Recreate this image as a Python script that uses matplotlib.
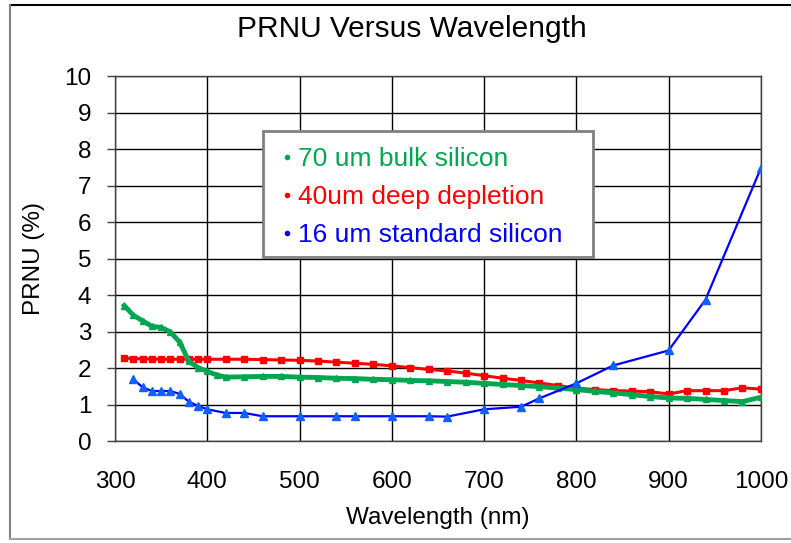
import matplotlib
matplotlib.use("Agg")
import matplotlib.pyplot as plt
from matplotlib.lines import Line2D
from matplotlib.patches import Rectangle

plt.rcParams['font.family'] = ['Liberation Sans', 'DejaVu Sans']

# 70 um bulk silicon
wl_bulk = [310, 320, 330, 340, 350, 360, 370, 380, 390, 400, 410, 420,
           440, 460, 480, 500, 520, 540, 560, 580, 600, 620, 640, 660,
           680, 700, 720, 740, 760, 780, 800, 820, 840, 860, 880, 900,
           920, 940, 960, 980, 1000]
prnu_bulk = [3.72, 3.45, 3.30, 3.15, 3.12, 3.00, 2.72, 2.20, 2.02, 1.92, 1.82, 1.76,
             1.77, 1.78, 1.78, 1.76, 1.75, 1.73, 1.72, 1.70, 1.69, 1.67, 1.66, 1.64,
             1.62, 1.59, 1.56, 1.53, 1.50, 1.46, 1.42, 1.37, 1.33, 1.28, 1.23, 1.19,
             1.18, 1.15, 1.12, 1.09, 1.21]

# 40um deep depletion
wl_deep = [310, 320, 330, 340, 350, 360, 370, 380, 390, 400, 420, 440,
           460, 480, 500, 520, 540, 560, 580, 600, 620, 640, 660, 680,
           700, 720, 740, 760, 780, 800, 820, 840, 860, 880, 900, 920,
           940, 960, 980, 1000]
prnu_deep = [2.28, 2.27, 2.26, 2.26, 2.25, 2.25, 2.25, 2.25, 2.25, 2.25, 2.25, 2.25,
             2.24, 2.23, 2.22, 2.20, 2.17, 2.14, 2.11, 2.07, 2.02, 1.97, 1.93, 1.87,
             1.80, 1.73, 1.67, 1.60, 1.53, 1.46, 1.42, 1.39, 1.38, 1.36, 1.30, 1.39,
             1.39, 1.39, 1.47, 1.43]

# 16 um standard silicon
wl_std = [320, 330, 340, 350, 360, 370, 380, 390, 400, 420, 440, 460,
          500, 540, 560, 600, 640, 660, 700, 740, 760, 800, 840, 900,
          940, 1000]
prnu_std = [1.70, 1.48, 1.38, 1.38, 1.38, 1.30, 1.09, 0.97, 0.88, 0.78, 0.78, 0.69,
            0.69, 0.69, 0.69, 0.69, 0.69, 0.68, 0.88, 0.95, 1.18, 1.59, 2.08, 2.49,
            3.88, 7.48]

labels = ['70 um bulk silicon', '40um deep depletion', '16 um standard silicon']
colors = ['#00A651', '#FF0000', '#0000FF']

fig = plt.figure(figsize=(7.91, 5.43), dpi=100)
ax = fig.add_axes([0.1454, 0.187, 0.8165, 0.673])

ax.plot(wl_bulk, prnu_bulk, color=colors[0], lw=3.5, marker='^', ms=5, zorder=4)
ax.plot(wl_deep, prnu_deep, color=colors[1], lw=2.2, marker='s', ms=4.5, zorder=3)
ax.plot(wl_std, prnu_std, color=colors[2], lw=1.6, marker='^', ms=6,
        mfc='#1060FF', mec='#1060FF', zorder=5)

ax.set_xlim(300, 1000)
ax.set_ylim(0, 10)
ax.set_xticks(range(300, 1001, 100))
ax.set_yticks(range(0, 11))
ax.grid(True, color='black', lw=1)
ax.set_axisbelow(True)
ax.tick_params(axis='y', length=6, width=1, pad=11, labelsize=17.5, color='#404040')
ax.tick_params(axis='x', length=0, pad=21, labelsize=17.5)
for s in ax.spines.values():
    s.set_color('#404040')
    s.set_linewidth(1)

# title is centred on the whole chart picture, not on the plot area
fig.text(412/791, 1 - 29/543, 'PRNU Versus Wavelength', fontsize=21.5,
         ha='center', va='center')
ax.set_xlabel('Wavelength (nm)', fontsize=17.5, labelpad=10)
ax.set_ylabel('PRNU (%)', fontsize=17.5, labelpad=14)

# legend box: frame drawn separately, it is wider than the text
ax.add_patch(Rectangle((0.229, 0.505), 0.511, 0.344, transform=ax.transAxes,
                       facecolor='white', edgecolor='#808080', lw=2, zorder=6))
handles = [Line2D([], [], ls='none', marker='o', ms=3, color=c) for c in colors]
leg = ax.legend(handles, labels, loc='upper left', bbox_to_anchor=(0.242, 0.828),
                borderaxespad=0, fontsize=19, frameon=False,
                handlelength=0.6, handletextpad=0.1, labelspacing=0.53,
                borderpad=0.3, labelcolor='linecolor')
leg.set_zorder(7)

# outer border of the chart picture
fig.add_artist(Line2D([10/791, 1.0], [1 - 5/543, 1 - 5/543], color='black', lw=1.5,
                      transform=fig.transFigure))
fig.add_artist(Line2D([10/791, 10/791], [1 - 5/543, 1 - 539/543], color='#808080',
                      lw=1.5, transform=fig.transFigure))
fig.add_artist(Line2D([10/791, 1.0], [1 - 539/543, 1 - 539/543], color='#A0A0A0',
                      lw=1.5, transform=fig.transFigure))

fig.savefig('out.png', dpi=100)
